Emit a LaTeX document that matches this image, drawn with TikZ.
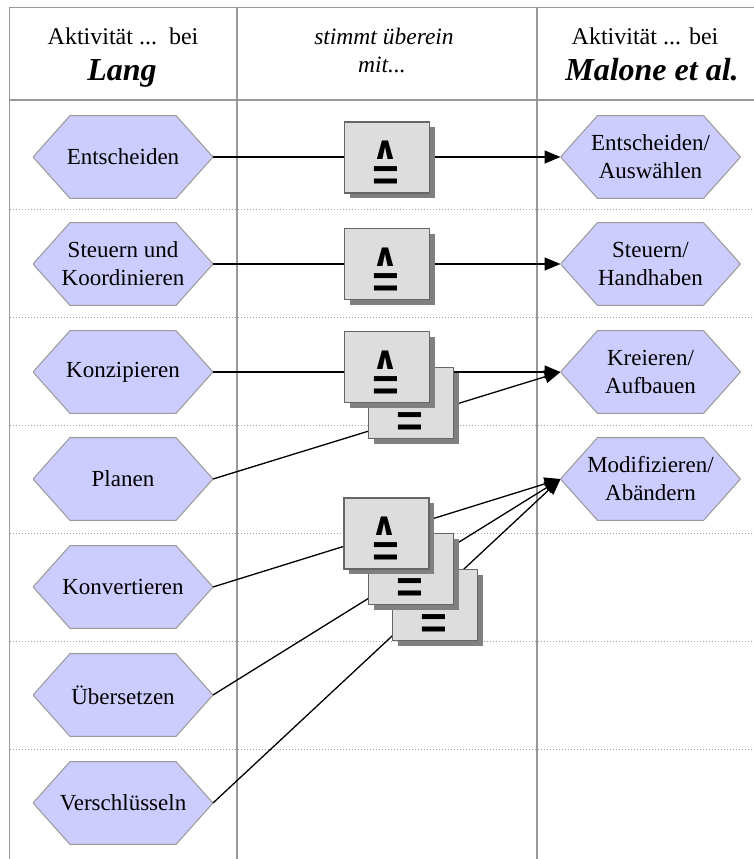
\documentclass[tikz,border=0pt]{standalone}
\usepackage{fontspec}
\setmainfont{Liberation Serif}
\newfontfamily\wedgefont{DejaVu Sans Bold}
\newfontfamily\barfont{Liberation Sans Bold}
\usetikzlibrary{arrows.meta,shadows,calc}

\definecolor{hexfill}{HTML}{CCCCFF}
\definecolor{hexline}{HTML}{999999}
\definecolor{boxfill}{HTML}{DDDDDD}
\definecolor{boxline}{HTML}{666666}
\definecolor{shadowgray}{HTML}{808080}
\definecolor{rulegray}{HTML}{999999}
\definecolor{dotgray}{HTML}{A0A0A0}

\tikzset{
  rule/.style={draw=rulegray, line width=1.5pt},
  rowsep/.style={draw=dotgray, line width=0.9pt, dash pattern=on 1pt off 2pt},
  activity/.style={rectangle, minimum width=180pt, minimum height=84pt,
    inner sep=0pt, outer sep=0pt, align=center,
    font=\fontsize{23}{28}\selectfont,
    path picture={
      \draw[draw=hexline, fill=hexfill, line width=1pt]
        (path picture bounding box.west)
        -- ([xshift=37pt,yshift=-0.6pt]path picture bounding box.north west)
        -- ([xshift=-37pt,yshift=-0.6pt]path picture bounding box.north east)
        -- (path picture bounding box.east)
        -- ([xshift=-37pt,yshift=0.6pt]path picture bounding box.south east)
        -- ([xshift=37pt,yshift=0.6pt]path picture bounding box.south west)
        -- cycle;}},
  match/.style={rectangle, draw=boxline, line width=1.3pt, fill=boxfill,
    minimum width=85pt, minimum height=71pt, inner sep=0pt,
    drop shadow={shadow xshift=5pt, shadow yshift=-5pt, fill=shadowgray, opacity=1}},
  wedgesym/.style={inner sep=0pt, anchor=base, text height=19pt, text depth=0pt,
    font=\wedgefont\fontsize{32}{32}\selectfont},
  barsym/.style={inner sep=0pt, font=\barfont\fontsize{46}{46}\selectfont},
  link/.style={draw=black, line width=1.3pt, -{Triangle[length=16pt,width=13pt]}},
  headtext/.style={inner sep=0pt, anchor=base, font=\fontsize{24}{28}\selectfont},
  headname/.style={inner sep=0pt, anchor=base, font=\bfseries\itshape\fontsize{32}{36}\selectfont},
  headmid/.style={inner sep=0pt, anchor=base, font=\itshape\fontsize{23.5}{28}\selectfont}
}

\begin{document}
\begin{tikzpicture}[x=1pt,y=-1pt]
\useasboundingbox (0,0) rectangle (754,859);

% table frame
\draw[rule] (9.5,859) -- (9.5,7.5) -- (754,7.5);
\draw[rule] (237,7.5) -- (237,859);
\draw[rule] (537,7.5) -- (537,859);
\draw[rule] (9.5,100) -- (754,100);
% dotted row separators
\foreach \yy in {209.5,317.5,425.5,533.5,641,749}
  \draw[rowsep] (9.5,\yy) -- (754,\yy);

% header
\node[headtext] (hl1) at (123,45) {Aktivität ...\ \ bei};
\node[headname] (hl2) at (122,81) {Lang};
\node[headmid]  (hm1) at (384,45) {stimmt überein};
\node[headmid]  (hm2) at (382,73) {mit...};
\node[headtext] (hr1) at (645,45) {Aktivität ... bei};
\node[headname] (hr2) at (652,81) {Malone et al.};

% activities (left column)
\node[activity] (l1) at (123,157) {Entscheiden};
\node[activity] (l2) at (123,264) {Steuern und\\Koordinieren};
\node[activity] (l3) at (123,372) {Konzipieren};
\node[activity] (l4) at (123,479) {Planen};
\node[activity] (l5) at (123,587) {Konvertieren};
\node[activity] (l6) at (123,695) {Übersetzen};
\node[activity] (l7) at (123,803) {Verschlüsseln};

% activities (right column)
\node[activity] (r1) at (650.5,157) {Entscheiden/\\Auswählen};
\node[activity] (r2) at (650.5,264) {Steuern/\\Handhaben};
\node[activity] (r3) at (650.5,372) {Kreieren/\\Aufbauen};
\node[activity] (r4) at (650.5,479) {Modifizieren/\\Abändern};

% correspondences
\draw[link] (l1.east) -- (r1.west);
\draw[link] (l2.east) -- (r2.west);
\draw[link] (l3.east) -- (r3.west);
\draw[link] (l4.east) -- (r3.west);
\draw[link] (l5.east) -- (r4.west);
\draw[link] (l6.east) -- (r4.west);
\draw[link] (l7.east) -- (r4.west);

% correspondence boxes (back to front)
\node[match] (m1) at (387,157.5) {};
\node[match] (m2) at (387,264) {};
\node[match] (m3b) at (411,403) {};
\node[match] (m3) at (387,367) {};
\node[match] (m7) at (435,605) {};
\node[match] (m6) at (411,569) {};
\node[match] (m5) at (386.5,533.5) {};

% symbols: wedge over equals, or equals alone
\foreach \b in {m1,m2,m3,m5}{
  \node[wedgesym] (\b-w) at ($(\b.center)+(-2,2)$) {∧};
  \node[barsym, anchor=center] (\b-e) at ($(\b.center)+(-1,21.5)$) {=};
}
\foreach \b in {m3b,m6,m7}{
  \node[barsym, anchor=center] (\b-e) at ($(\b.center)+(-1,21.5)$) {=};
}
\end{tikzpicture}
\end{document}
